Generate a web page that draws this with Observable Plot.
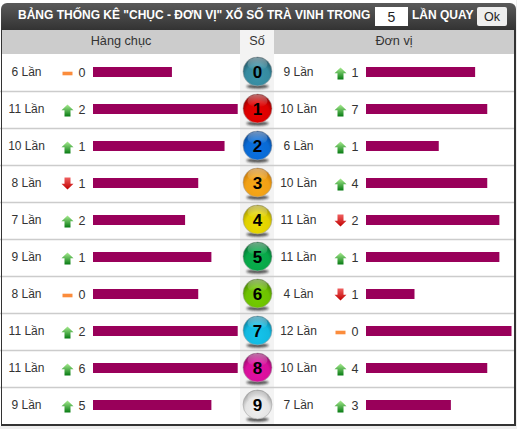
<!DOCTYPE html>
<html lang="vi">
<head>
<meta charset="utf-8">
<script src="https://cdn.jsdelivr.net/npm/d3@7"></script>
<script src="https://cdn.jsdelivr.net/npm/@observablehq/plot@0.6"></script>
<style>
html,body{margin:0;padding:0;background:#fff;}
#wrap{position:relative;width:517px;height:429px;overflow:hidden;font-family:"Liberation Sans",Arial,sans-serif;background:#fff;}
#wrap svg{position:absolute;top:0;background:transparent;}
.abs{position:absolute;box-sizing:border-box;}
#title{left:1px;top:3px;width:515px;height:27px;background:linear-gradient(#5a5a5a,#333);border-radius:6px 6px 0 0;}
.ht{position:absolute;top:5px;color:#fff;font-weight:bold;font-size:12px;line-height:14px;white-space:nowrap;}
.box{position:absolute;background:#fff;color:#222;font-size:14px;text-align:center;}
.sub{top:30px;height:24px;background:#ccc;color:#333;font-size:12.7px;line-height:23px;text-align:center;}
#cen{left:240px;top:30px;width:34px;height:394px;background:#f3f3f3;}
#frame{left:1px;top:29px;width:515px;height:397px;border-left:1px solid #333;border-right:2px solid #333;border-bottom:2px solid #333;}
#below{left:0;top:426px;width:517px;height:3px;background:#eee;}
#rightout{left:516px;top:0;width:1px;height:429px;background:#eee;}
</style>
</head>
<body>
<div id="wrap">
  <div class="abs" id="cen"></div>
  <div class="abs sub" style="left:2px;width:238px;" id="hL"></div>
  <div class="abs sub" style="left:240px;width:34px;background:#f3f3f3;" id="hC"></div>
  <div class="abs sub" style="left:274px;width:240px;" id="hR"></div>
  <div class="abs" id="title">
    <span class="ht" id="t1" style="left:17px;"></span>
    <div class="box" id="t2" style="left:374px;top:4px;width:33px;height:19px;line-height:20px;"></div>
    <span class="ht" id="t3" style="left:411px;"></span>
    <div class="box" id="t4" style="left:476px;top:4px;width:30px;height:19px;line-height:20px;font-size:12.5px;background:#eee;border-radius:2px;"></div>
  </div>
  <div class="abs" id="below"></div>
  <div class="abs" id="rightout"></div>
  <div class="abs" id="frame"></div>
</div>
<script>
const titleText = 'BẢNG THỐNG KÊ "CHỤC - ĐƠN VỊ" XỔ SỐ TRÀ VINH TRONG';
const drawCount = "5";
const titleEnd = "LẦN QUAY";
const okLabel = "Ok";
const headLeft = "Hàng chục";
const headCentre = "Số";
const headRight = "Đơn vị";
const timesWord = "Lần";

const digits      = [0, 1, 2, 3, 4, 5, 6, 7, 8, 9];
const tensCounts  = [6, 11, 10, 8, 7, 9, 8, 11, 11, 9];
const tensDeltas  = [0, 2, 1, 1, 2, 1, 0, 2, 6, 5];
const tensTrends  = ["same", "up", "up", "down", "up", "up", "same", "up", "up", "up"];
const unitCounts  = [9, 10, 6, 10, 11, 11, 4, 12, 10, 7];
const unitDeltas  = [1, 7, 1, 4, 2, 1, 1, 0, 4, 3];
const unitTrends  = ["up", "up", "up", "up", "down", "up", "down", "same", "up", "up"];
const ballColors  = ["#3a94aa", "#e80000", "#0a70e0", "#f8a818", "#ecdc00", "#08b04c", "#74cc00", "#14c4ec", "#e410a4", "#f0f0f0"];
const ballEdges   = ["#1c4452", "#780000", "#053a80", "#b86800", "#908400", "#025c28", "#3c7000", "#066c88", "#7c0858", "#8c8c8c"];

document.getElementById("t1").textContent = titleText;
document.getElementById("t2").textContent = drawCount;
document.getElementById("t3").textContent = titleEnd;
document.getElementById("t4").textContent = okLabel;
document.getElementById("hL").textContent = headLeft;
document.getElementById("hC").textContent = headCentre;
document.getElementById("hR").textContent = headRight;

// gradients
const wrap = d3.select("#wrap");
const defs = wrap.append("svg").attr("width", 0).attr("height", 0).append("defs");
digits.forEach(i => {
  const g = defs.append("radialGradient").attr("id", "ball" + i).attr("cx", "50%").attr("cy", "66%").attr("r", "68%");
  g.append("stop").attr("offset", "0%").attr("stop-color", ballColors[i]);
  g.append("stop").attr("offset", "60%").attr("stop-color", d3.interpolateRgb(ballColors[i], ballEdges[i])(0.12));
  g.append("stop").attr("offset", "100%").attr("stop-color", ballEdges[i]);
});
const lin = (id, a, b, oa = 1, ob = 1) => {
  const g = defs.append("linearGradient").attr("id", id).attr("x1", 0).attr("y1", 0).attr("x2", 0).attr("y2", 1);
  g.append("stop").attr("offset", "0%").attr("stop-color", a).attr("stop-opacity", oa);
  g.append("stop").attr("offset", "100%").attr("stop-color", b).attr("stop-opacity", ob);
};
lin("gUp", "#a8ec90", "#067a12");
lin("gDown", "#f06060", "#c00000");
lin("gShine", "#fff", "#fff", 0.42, 0);
const blur = defs.append("filter").attr("id", "soft").attr("x", "-30%").attr("y", "-80%").attr("width", "160%").attr("height", "260%");
blur.append("feGaussianBlur").attr("stdDeviation", 1);

// custom symbols
const unit = size => Math.sqrt(size / Math.PI);
const ellipse = (c, rx, ry) => {
  const k = 0.5523;
  c.moveTo(-rx, 0);
  c.bezierCurveTo(-rx, -ry * k, -rx * k, -ry, 0, -ry);
  c.bezierCurveTo(rx * k, -ry, rx, -ry * k, rx, 0);
  c.bezierCurveTo(rx, ry * k, rx * k, ry, 0, ry);
  c.bezierCurveTo(-rx * k, ry, -rx, ry * k, -rx, 0);
  c.closePath();
};
const upArrow = {draw(c, s) { const r = unit(s);
  c.moveTo(0, -r); c.lineTo(r, -r * 0.05); c.lineTo(r * 0.5, -r * 0.05); c.lineTo(r * 0.5, r);
  c.lineTo(-r * 0.5, r); c.lineTo(-r * 0.5, -r * 0.05); c.lineTo(-r, -r * 0.05); c.closePath(); }};
const downArrow = {draw(c, s) { const r = unit(s);
  c.moveTo(0, r); c.lineTo(r, r * 0.05); c.lineTo(r * 0.5, r * 0.05); c.lineTo(r * 0.5, -r);
  c.lineTo(-r * 0.5, -r); c.lineTo(-r * 0.5, r * 0.05); c.lineTo(-r, r * 0.05); c.closePath(); }};
const dash = {draw(c, s) { const r = unit(s);
  c.moveTo(-r, -r * 0.36); c.lineTo(r, -r * 0.36); c.lineTo(r, r * 0.36); c.lineTo(-r, r * 0.36); c.closePath(); }};
const flat = {draw(c, s) { const r = unit(s); ellipse(c, r, r * 0.2); }};
const shine = {draw(c, s) { const r = unit(s); ellipse(c, r, r * 0.62); }};

const yOpts = {domain: digits, range: [53.5, 423.5], type: "band", padding: 0, round: false, axis: null};

function panel({counts, deltas, trends, width, left, domainMax, rangeL, rangeR, offCount, offArrow, offDelta}) {
  const rows = digits.map((d, i) => ({d, count: counts[i], delta: deltas[i], trend: trends[i]}));
  const base = {y: "d", x: () => 0};
  const fig = Plot.plot({
    width, height: 429, margin: 0,
    style: {background: "transparent", fontFamily: '"Liberation Sans",Arial,sans-serif'},
    x: {domain: [0, domainMax], range: [rangeL, rangeR], axis: null},
    y: yOpts,
    marks: [
      Plot.ruleY(digits.slice(0, -1), {y: d => d, stroke: "#ccc", strokeWidth: 1.4, dy: 19}),
      Plot.barX(rows, {x: "count", y: "d", fill: "#99005a", insetTop: 13.5, insetBottom: 13.5}),
      Plot.text(rows, {...base, dx: offCount, text: d => `${d.count} ${timesWord}`, fontSize: 12, fill: "#333"}),
      Plot.text(rows, {...base, dx: offDelta, text: "delta", fontSize: 12.5, fill: "#333"}),
      Plot.dot(rows.filter(d => d.trend === "up"), {...base, dx: offArrow, dy: 1, r: 6, symbol: upArrow, fill: "url(#gUp)", stroke: "none"}),
      Plot.dot(rows.filter(d => d.trend === "down"), {...base, dx: offArrow, dy: 0, r: 6, symbol: downArrow, fill: "url(#gDown)", stroke: "none"}),
      Plot.dot(rows.filter(d => d.trend === "same"), {...base, dx: offArrow, dy: 1, r: 5, symbol: dash, fill: "#fb8c3c", stroke: "none"})
    ]
  });
  fig.style.left = left + "px";
  return fig;
}

const node = document.getElementById("wrap");
const frame = document.getElementById("frame");
node.insertBefore(panel({counts: tensCounts, deltas: tensDeltas, trends: tensTrends, width: 240, left: 0,
  domainMax: 11, rangeL: 93, rangeR: 237.7, offCount: -67, offArrow: -26, offDelta: -11.5}), frame);
node.insertBefore(panel({counts: unitCounts, deltas: unitDeltas, trends: unitTrends, width: 242, left: 274,
  domainMax: 12, rangeL: 92, rangeR: 237.5, offCount: -68, offArrow: -26, offDelta: -11.5}), frame);

// centre column
const balls = Plot.plot({
  width: 34, height: 429, margin: 0,
  style: {background: "transparent", fontFamily: '"Liberation Sans",Arial,sans-serif'},
  x: {domain: [0, 1], range: [0, 34], axis: null},
  y: yOpts,
  marks: [
    Plot.ruleY(digits.slice(0, -1), {y: d => d, stroke: "#ccc", strokeWidth: 1.4, dy: 19}),
    Plot.dot(digits, {x: () => 0.5, y: d => d, dy: 14, r: 11, symbol: flat, fill: "#222", fillOpacity: 0.75, stroke: "none",
      render: (i, s, v, d, c, next) => { const g = next(i, s, v, d, c); g.setAttribute("filter", "url(#soft)"); return g; }}),
    Plot.dot(digits, {x: () => 0.5, y: d => d, dy: -1, r: 14.5, fill: d => `url(#ball${d})`, stroke: "#aaa", strokeWidth: 0.6}),
    Plot.dot(digits, {x: () => 0.5, y: d => d, dy: -8.5, r: 10, symbol: shine, fill: "url(#gShine)", stroke: "none"}),
    Plot.text(digits, {x: () => 0.5, y: d => d, dy: 0, text: d => d, fontSize: 17, fontWeight: "bold", fill: "#000"})
  ]
});
balls.style.left = "240px";
node.insertBefore(balls, frame);
</script>
</body>
</html>
